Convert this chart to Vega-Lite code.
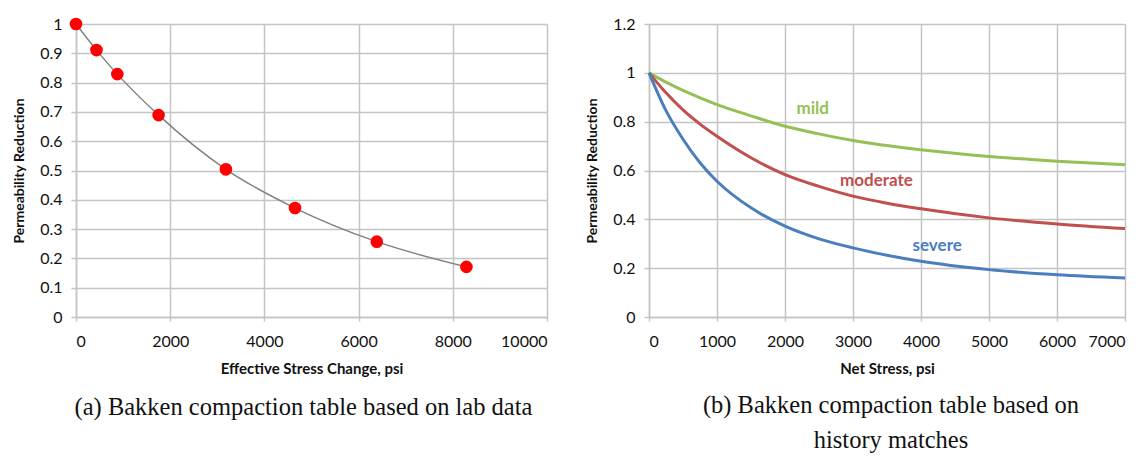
{
  "$schema": "https://vega.github.io/schema/vega-lite/v6.json",
  "background": "white",
  "padding": {"left": 12, "top": 16, "right": 0, "bottom": 0},
  "spacing": 37,
  "config": {
    "view": {"stroke": null},
    "axis": {
      "labelFont": "Lato", "labelFontSize": 16, "labelColor": "#111111",
      "titleFont": "Lato", "titleFontWeight": "bold", "titleColor": "#111111",
      "gridColor": "#c4c4c4", "gridWidth": 1.5,
      "domainColor": "#c4c4c4", "domainWidth": 1.5,
      "tickColor": "#c4c4c4", "tickWidth": 1.5
    },
    "axisY": {"tickSize": 5, "labelPadding": 9, "titleFontSize": 14, "titlePadding": 13},
    "axisX": {"tickSize": 4, "labelPadding": 12, "titleFontSize": 15, "titlePadding": 12},
    "title": {"font": "Liberation Serif", "fontSize": 24.5, "fontWeight": "normal", "color": "#111111", "orient": "bottom", "anchor": "middle", "lineHeight": 35}
  },
  "hconcat": [
    {
      "width": 471,
      "height": 293,
      "title": {"text": "(a) Bakken compaction table based on lab data", "offset": 20, "dx": -8},
      "data": {"values": [
        {"stress": 0, "k": 1.0},
        {"stress": 435, "k": 0.911},
        {"stress": 877, "k": 0.829},
        {"stress": 1754, "k": 0.689},
        {"stress": 3182, "k": 0.504},
        {"stress": 4650, "k": 0.372},
        {"stress": 6386, "k": 0.257},
        {"stress": 8289, "k": 0.171}
      ]},
      "encoding": {
        "x": {"field": "stress", "type": "quantitative", "scale": {"domain": [0, 10000]},
              "axis": {"values": [0, 2000, 4000, 6000, 8000, 10000], "format": "d", "title": "Effective Stress Change, psi"}},
        "y": {"field": "k", "type": "quantitative", "scale": {"domain": [0, 1]},
              "axis": {"values": [0, 0.1, 0.2, 0.3, 0.4, 0.5, 0.6, 0.7, 0.8, 0.9, 1], "format": "~g", "title": "Permeability Reduction"}}
      },
      "layer": [
        {"mark": {"type": "line", "interpolate": "monotone", "color": "#7f7f7f", "strokeWidth": 1.4}},
        {"mark": {"type": "circle", "color": "#ff0000", "opacity": 1, "size": 160}}
      ]
    },
    {
      "width": 476,
      "height": 293,
      "title": {"text": ["(b) Bakken compaction table based on", "history matches"], "offset": 18, "dx": 4},
      "layer": [
        {
          "data": {"values": [
            {"stress": 0, "k": 1.0, "case": "mild"},
            {"stress": 250, "k": 0.962, "case": "mild"},
            {"stress": 500, "k": 0.928, "case": "mild"},
            {"stress": 1000, "k": 0.870, "case": "mild"},
            {"stress": 1500, "k": 0.824, "case": "mild"},
            {"stress": 2000, "k": 0.781, "case": "mild"},
            {"stress": 2500, "k": 0.750, "case": "mild"},
            {"stress": 3000, "k": 0.723, "case": "mild"},
            {"stress": 4000, "k": 0.685, "case": "mild"},
            {"stress": 5000, "k": 0.657, "case": "mild"},
            {"stress": 6000, "k": 0.638, "case": "mild"},
            {"stress": 7000, "k": 0.624, "case": "mild"},
            {"stress": 0, "k": 1.0, "case": "moderate"},
            {"stress": 250, "k": 0.918, "case": "moderate"},
            {"stress": 500, "k": 0.848, "case": "moderate"},
            {"stress": 750, "k": 0.790, "case": "moderate"},
            {"stress": 1000, "k": 0.740, "case": "moderate"},
            {"stress": 1500, "k": 0.652, "case": "moderate"},
            {"stress": 2000, "k": 0.583, "case": "moderate"},
            {"stress": 2500, "k": 0.535, "case": "moderate"},
            {"stress": 3000, "k": 0.495, "case": "moderate"},
            {"stress": 3500, "k": 0.466, "case": "moderate"},
            {"stress": 4000, "k": 0.443, "case": "moderate"},
            {"stress": 5000, "k": 0.406, "case": "moderate"},
            {"stress": 6000, "k": 0.381, "case": "moderate"},
            {"stress": 7000, "k": 0.362, "case": "moderate"},
            {"stress": 0, "k": 1.0, "case": "severe"},
            {"stress": 250, "k": 0.845, "case": "severe"},
            {"stress": 500, "k": 0.728, "case": "severe"},
            {"stress": 750, "k": 0.632, "case": "severe"},
            {"stress": 1000, "k": 0.556, "case": "severe"},
            {"stress": 1500, "k": 0.447, "case": "severe"},
            {"stress": 2000, "k": 0.372, "case": "severe"},
            {"stress": 2500, "k": 0.320, "case": "severe"},
            {"stress": 3000, "k": 0.283, "case": "severe"},
            {"stress": 3500, "k": 0.253, "case": "severe"},
            {"stress": 4000, "k": 0.228, "case": "severe"},
            {"stress": 5000, "k": 0.194, "case": "severe"},
            {"stress": 6000, "k": 0.173, "case": "severe"},
            {"stress": 7000, "k": 0.160, "case": "severe"}
          ]},
          "mark": {"type": "line", "interpolate": "monotone", "strokeWidth": 3},
          "encoding": {
            "x": {"field": "stress", "type": "quantitative", "scale": {"domain": [0, 7000]},
                  "axis": {"values": [0, 1000, 2000, 3000, 4000, 5000, 6000, 7000], "format": "d", "title": "Net Stress, psi"}},
            "y": {"field": "k", "type": "quantitative", "scale": {"domain": [0, 1.2]},
                  "axis": {"values": [0, 0.2, 0.4, 0.6, 0.8, 1, 1.2], "format": "~g", "title": "Permeability Reduction"}},
            "color": {"field": "case", "type": "nominal", "legend": null,
                      "scale": {"domain": ["mild", "moderate", "severe"], "range": ["#95c055", "#c0504d", "#4a7ebf"]}}
          }
        },
        {
          "data": {"values": [
            {"stress": 2407, "k": 0.852, "case": "mild"},
            {"stress": 3344, "k": 0.559, "case": "moderate"},
            {"stress": 4238, "k": 0.292, "case": "severe"}
          ]},
          "mark": {"type": "text", "font": "Lato", "fontWeight": "bold", "fontSize": 17, "align": "center", "baseline": "middle"},
          "encoding": {
            "x": {"field": "stress", "type": "quantitative"},
            "y": {"field": "k", "type": "quantitative"},
            "text": {"field": "case"},
            "color": {"field": "case", "type": "nominal", "legend": null}
          }
        }
      ]
    }
  ]
}
